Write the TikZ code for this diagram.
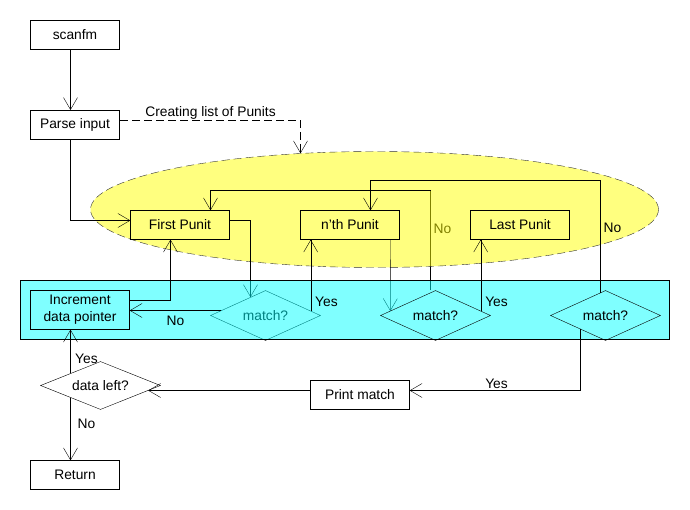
\documentclass[tikz,border=0pt]{standalone}
\usepackage{fontspec}
\setmainfont{Liberation Sans}
\usetikzlibrary{arrows.meta,shapes.geometric,calc}
\definecolor{cy}{RGB}{0,255,255}
\definecolor{ye}{RGB}{255,255,0}
\pgfdeclarelayer{lA}\pgfdeclarelayer{lB}\pgfdeclarelayer{lC}\pgfdeclarelayer{lD}
\pgfsetlayers{lA,lB,lC,lD,main}
\begin{document}
\begin{tikzpicture}[x=1pt,y=-1pt,
  font=\fontsize{13.8}{17}\selectfont,
  line width=1pt,
  box/.style={draw, minimum width=99pt, minimum height=29pt, inner sep=0pt},
  dec/.style={draw, diamond, aspect=2.2, minimum width=110pt, minimum height=50pt, inner sep=0pt},
  arr/.style={-{Straight Barb[length=12pt,width=14pt]}},
  lbl/.style={inner sep=0pt}]
\useasboundingbox (-0.5,-0.5) rectangle (689.5,509.5);
\coordinate (gx70) at (70,0);
\coordinate (gx300) at (300,120);
\coordinate (gx430) at (430,190);
\coordinate (gy180) at (0,180);
% nodes
\node[box, minimum width=89pt] (scanfm) at (74.5,34.5) {scanfm};
\node[box, minimum width=89pt] (parse) at (74.5,124.5) {Parse input};
\begin{pgfonlayer}{lB}
\node[ellipse, draw=black!80, dash pattern=on 8pt off 4pt, fill=ye, fill opacity=0.5,
  minimum width=568pt, minimum height=116pt, inner sep=0pt] (ell) at (374,209) {};
\end{pgfonlayer}
\begin{pgfonlayer}{lD}
\node[draw, fill=cy, fill opacity=0.5, minimum width=649pt, minimum height=59pt, inner sep=0pt] (band) at (344.5,309.5) {};
\end{pgfonlayer}
\node[box] (first) at (179.5,224.5) {First Punit};
\node[box] (nth) at (349.5,224.5) {n'th Punit};
\node[box] (last) at (519.5,224.5) {Last Punit};
\node[box, minimum height=39pt, align=center] (incr) at (79.5,309.5) {Increment\\data pointer};
\node[box] (print) at (359.5,394.5) {Print match};
\node[box, minimum width=89pt] (ret) at (74.5,474.5) {Return};
\begin{pgfonlayer}{lC}
\node[dec] (m1) at (265,315) {\raisebox{-5pt}{match?}};
\end{pgfonlayer}
\node[dec] (m2) at (435,315) {\raisebox{-5pt}{match?}};
\node[dec] (m3) at (605,315) {\raisebox{-5pt}{match?}};
\node[dec, aspect=2.5, minimum width=120pt, minimum height=48pt] (dl) at (100,385) {\raisebox{-4pt}{data left?}};
% connectors
\draw[arr] (scanfm.south -| gx70) -- (parse.north -| gx70);
\draw[arr, dash pattern=on 8pt off 4pt] ($(parse.east)+(0,-4.5)$) -| ($(ell.north -| gx300)+(0,2)$);
\node[lbl] at (210,112) {Creating list of Punits};
\draw[arr] (parse.south -| gx70) |- ($(first.west)+(0,-4.5)$);
\begin{pgfonlayer}{lC}
\draw[arr] ($(first.east)+(0,-4.5)$) -| ($(m1.north)+(-15,6.8)$);
\draw[arr] ($(nth.south)+(40.5,0)$) -- ($(m2.west)+(10,-4.5)$);
\end{pgfonlayer}
\draw[arr] ($(incr.east)+(0,-9.5)$) -| ($(first.south)+(-9.5,0)$);
\draw[arr] ($(m1.west)+(11,-5)$) coordinate (m1n) -- (m1n -| incr.east);
\node[lbl] at (175,320) {No};
\draw[arr] ($(m1.east)+(-10,-4.5)$) coordinate (m1y) -- (m1y |- nth.south);
\node[lbl] at (326,301) {Yes};
\begin{pgfonlayer}{lA}
\draw (m2.north -| gx430) -- (gx430);
\node[lbl] at (442,228) {No};
\end{pgfonlayer}
\draw[arr] (gx430) -| ($(first.north)+(30.5,0)$);
\draw[arr] ($(m2.east)+(-10,-4.5)$) coordinate (m2y) -- (m2y |- last.south);
\node[lbl] at (496,301) {Yes};
\draw[arr] ($(m3.north)+(-5,2.3)$) coordinate (m3n) -- (m3n |- gy180) -| ($(nth.north)+(20.5,0)$);
\node[lbl] at (612,227) {No};
\draw[arr] ($(m3.south)+(-25,-11.4)$) |- ($(print.east)+(0,-4.5)$);
\node[lbl] at (496,383) {Yes};
\draw[arr] ($(print.west)+(0,-4.5)$) -- ($(dl.east)+(-12.5,5)$);
\draw[arr] ($(dl.north)+(-30,12)$) -- (incr.south -| gx70);
\node[lbl] at (86,358) {Yes};
\draw[arr] ($(dl.south)+(-30,-12)$) -- (ret.north -| gx70);
\node[lbl] at (86,423) {No};
\end{tikzpicture}
\end{document}
